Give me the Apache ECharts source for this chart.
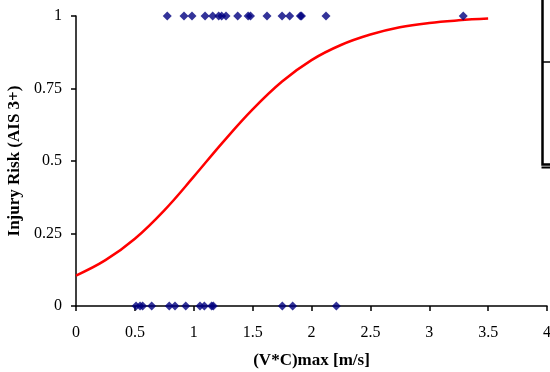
<!DOCTYPE html>
<html>
<head>
<meta charset="utf-8">
<script src="https://cdn.jsdelivr.net/npm/echarts@6/dist/echarts.min.js"></script>
<style>html,body{margin:0;padding:0;background:#fff;}#c{width:550px;height:372px;}</style>
</head>
<body>
<div id="c"></div>
<script>
// Observed cases with injury (risk = 1)
const injuredX = [0.775, 0.917, 0.985, 1.096, 1.161, 1.212, 1.237, 1.274, 1.373, 1.462, 1.482, 1.622, 1.75, 1.815, 1.905, 1.915, 2.123, 3.289];
// Observed cases without injury (risk = 0)
const uninjuredX = [0.51, 0.544, 0.566, 0.643, 0.792, 0.841, 0.932, 1.053, 1.09, 1.152, 1.166, 1.752, 1.84, 2.211];
// Fitted risk curve
const curveX = [0, 0.25, 0.5, 0.75, 1.0, 1.25, 1.5, 1.75, 2.0, 2.25, 2.5, 2.75, 3.0, 3.25, 3.5];
const curveY = [0.105, 0.158, 0.232, 0.330, 0.446, 0.566, 0.678, 0.774, 0.848, 0.900, 0.936, 0.961, 0.976, 0.985, 0.991];
const xTicks = ['0', '0.5', '1', '1.5', '2', '2.5', '3', '3.5', '4'];
const yTicks = ['0', '0.25', '0.5', '0.75', '1'];
const xTitle = '(V*C)max [m/s]';
const yTitle = 'Injury Risk (AIS 3+)';

const chart = echarts.init(document.getElementById('c'), null, {renderer: 'canvas'});
const font = 'Liberation Serif';
const xFmt = v => { const s = String(Math.round(v * 100) / 100); return xTicks.includes(s) ? s : ''; };
const yFmt = v => { const s = String(Math.round(v * 100) / 100); return yTicks.includes(s) ? s : ''; };

chart.setOption({
  animation: false,
  backgroundColor: '#fff',
  grid: {left: 76, right: 3, top: 16, bottom: 66, containLabel: false, outerBoundsMode: 'none'},
  xAxis: {
    type: 'value', min: 0, max: 4, interval: 0.5,
    name: xTitle, nameLocation: 'middle', nameGap: 46,
    nameTextStyle: {fontFamily: font, fontWeight: 'bold', fontSize: 17, color: '#000'},
    axisLine: {show: true, onZero: false, lineStyle: {color: '#000', width: 1.5}},
    axisTick: {show: true, inside: false, length: 5, lineStyle: {color: '#000', width: 1.5}},
    axisLabel: {fontFamily: font, fontSize: 16, color: '#000', margin: 19, formatter: xFmt, hideOverlap: false},
    splitLine: {show: false}
  },
  yAxis: {
    type: 'value', min: 0, max: 1, interval: 0.25,
    name: yTitle, nameLocation: 'middle', nameGap: 46,
    nameTextStyle: {fontFamily: font, fontWeight: 'bold', fontSize: 17, color: '#000'},
    axisLine: {show: true, onZero: false, lineStyle: {color: '#000', width: 1.5}},
    axisTick: {show: true, inside: false, length: 5, lineStyle: {color: '#000', width: 1.5}},
    axisLabel: {fontFamily: font, fontSize: 16, color: '#000', margin: 14, formatter: yFmt},
    splitLine: {show: false}
  },
  series: [
    {
      type: 'line', data: curveX.map((x, i) => [x, curveY[i]]),
      smooth: 0.4, showSymbol: false, symbol: 'none', clip: false,
      lineStyle: {color: '#ff0000', width: 2.5}, z: 2
    },
    {
      type: 'scatter', data: injuredX.map(x => [x, 1]),
      symbol: 'diamond', symbolSize: 9, clip: false,
      itemStyle: {color: '#000080'}, z: 3
    },
    {
      type: 'scatter', data: uninjuredX.map(x => [x, 0]),
      symbol: 'diamond', symbolSize: 9, clip: false,
      itemStyle: {color: '#000080'}, z: 3
    }
  ],
  graphic: [
    {type: 'rect', shape: {x: 542.5, y: -10, width: 20, height: 174.5}, style: {fill: 'none', stroke: '#000', lineWidth: 2.5}},
    {type: 'line', shape: {x1: 541.5, y1: 167.5, x2: 550, y2: 167.5}, style: {stroke: '#000', lineWidth: 2}},
    {type: 'line', shape: {x1: 542, y1: 62, x2: 550, y2: 62}, style: {stroke: '#000', lineWidth: 1.5}}
  ]
});
</script>
</body>
</html>
